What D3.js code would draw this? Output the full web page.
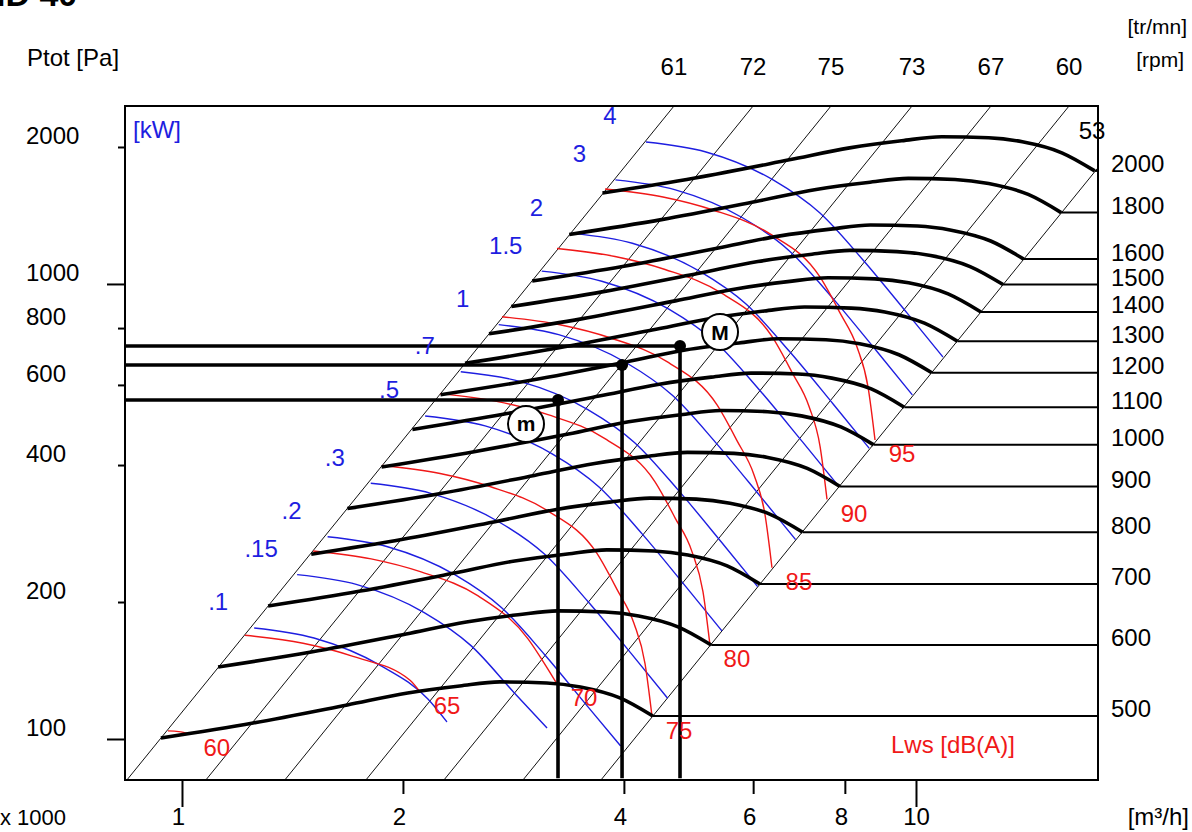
<!DOCTYPE html>
<html><head><meta charset="utf-8">
<script src="https://cdn.jsdelivr.net/npm/d3@7"></script>
<style>
body{margin:0;background:#fff}
svg{display:block}
text{font-family:"Liberation Sans",Arial,Helvetica,sans-serif}
</style>
</head><body>
<svg id="chart" width="1192" height="832"></svg>
<script>
// ---------- data (flow Q in 1000 m3/h, total pressure P in Pa) ----------
const xTicks = [1, 2, 4, 6, 8, 10];
const yTicks = [100, 200, 400, 600, 800, 1000, 2000];

const rpmValues = [500, 600, 700, 800, 900, 1000, 1100, 1200, 1300, 1400, 1500, 1600, 1800, 2000];
const fanQ = [
  [0.936, 1.25, 1.68, 2.03, 2.39, 2.71, 3.14, 3.49, 3.95, 4.38],
  [1.12, 1.50, 2.02, 2.44, 2.87, 3.25, 3.77, 4.19, 4.74, 5.26],
  [1.31, 1.75, 2.35, 2.84, 3.35, 3.79, 4.40, 4.89, 5.53, 6.13],
  [1.50, 2.00, 2.69, 3.25, 3.82, 4.34, 5.02, 5.58, 6.32, 7.01],
  [1.68, 2.25, 3.02, 3.65, 4.30, 4.88, 5.65, 6.28, 7.11, 7.88],
  [1.87, 2.50, 3.36, 4.06, 4.78, 5.42, 6.28, 6.98, 7.90, 8.76],
  [2.06, 2.75, 3.70, 4.47, 5.26, 5.96, 6.91, 7.68, 8.69, 9.64],
  [2.25, 3.00, 4.03, 4.87, 5.74, 6.50, 7.54, 8.38, 9.48, 10.51],
  [2.43, 3.25, 4.37, 5.28, 6.21, 7.05, 8.16, 9.07, 10.27, 11.39],
  [2.62, 3.50, 4.70, 5.68, 6.69, 7.59, 8.79, 9.77, 11.06, 12.26],
  [2.81, 3.75, 5.04, 6.09, 7.17, 8.13, 9.42, 10.47, 11.85, 13.14],
  [3.00, 4.00, 5.38, 6.50, 7.65, 8.67, 10.05, 11.17, 12.64, 14.02],
  [3.37, 4.50, 6.05, 7.31, 8.60, 9.76, 11.30, 12.56, 14.22, 15.77],
  [3.74, 5.00, 6.72, 8.12, 9.56, 10.84, 12.56, 13.96, 15.80, 17.52]
];
const fanP = [
  [100.5, 108.4, 118.8, 126.2, 130.8, 133.5, 132.8, 130.1, 123.1, 112.3],
  [144.0, 155.3, 170.2, 180.8, 187.5, 191.2, 190.2, 186.4, 176.4, 160.9],
  [196.0, 211.4, 231.6, 246.2, 255.1, 260.4, 259.0, 253.7, 240.1, 219.0],
  [254.7, 274.7, 301.1, 319.9, 331.5, 338.4, 336.6, 329.8, 312.0, 284.6],
  [321.0, 346.3, 379.5, 403.2, 417.9, 426.4, 424.3, 415.6, 393.2, 358.8],
  [396, 428, 468, 498, 516, 527, 524, 513, 485, 443],
  [479, 518, 567, 602, 624, 637, 634, 621, 588, 536],
  [571, 615, 674, 717, 742, 758, 754, 739, 699, 638],
  [669, 723, 792, 841, 872, 890, 885, 868, 820, 748],
  [777, 838, 918, 975, 1012, 1032, 1026, 1006, 951, 868],
  [892, 962, 1054, 1120, 1161, 1185, 1178, 1155, 1092, 997],
  [1015, 1094, 1200, 1274, 1320, 1348, 1341, 1313, 1243, 1134],
  [1285, 1385, 1518, 1613, 1671, 1706, 1697, 1662, 1573, 1435],
  [1585, 1710, 1874, 1991, 2064, 2106, 2095, 2053, 1942, 1772]
];

// shaft power iso-lines [kW]
const powerLabels = ["4", "3", "2", "1.5", "1", ".7", ".5", ".3", ".2", ".15", ".1"];
const powerQ = [
  [4.287, 5.175, 6.387, 7.399, 8.469, 9.721, 10.88],
  [3.895, 4.702, 5.803, 6.723, 7.695, 8.832, 9.886],
  [3.403, 4.107, 5.069, 5.873, 6.722, 7.716, 8.636],
  [3.091, 3.732, 4.606, 5.335, 6.107, 7.010, 7.846],
  [2.701, 3.260, 4.024, 4.661, 5.335, 6.124, 6.854],
  [2.398, 2.894, 3.572, 4.138, 4.737, 5.437, 6.085],
  [2.144, 2.588, 3.194, 3.700, 4.235, 4.861, 5.440],
  [1.808, 2.182, 2.693, 3.120, 3.571, 4.099, 4.588],
  [1.579, 1.906, 2.353, 2.726, 3.120, 3.581, 3.960],
  [1.435, 1.732, 2.138, 2.476, 2.835, 3.143],
  [1.254, 1.513, 1.868, 2.163, 2.296]
];
const powerP = [
  [2051, 1950, 1693, 1432, 1129, 863.7, 691.1],
  [1693, 1610, 1398, 1182, 932.1, 713.1, 570.6],
  [1292, 1229, 1067, 902.2, 711.3, 544.1, 435.4],
  [1067, 1014, 880.4, 744.6, 587.1, 449.1, 359.4],
  [814.0, 773.9, 672.0, 568.4, 448.1, 342.8, 274.3],
  [641.5, 609.9, 529.6, 447.9, 353.2, 270.2, 216.2],
  [512.8, 487.5, 423.3, 358.0, 282.3, 215.9, 172.8],
  [364.7, 346.7, 301.0, 254.6, 200.7, 153.6, 122.9],
  [278.3, 264.6, 229.7, 194.3, 153.2, 117.2, 96.5],
  [229.7, 218.4, 189.6, 160.4, 126.4, 105.7],
  [175.4, 166.7, 144.8, 122.4, 109.0]
];

// sound power iso-lines Lws [dB(A)]
const soundLabels = [95, 90, 85, 80, 75, 70, 65, 60];
const soundQ = [
  [3.770, 4.522, 5.290, 6.326, 7.399, 7.879, 8.311, 8.604, 8.794],
  [3.243, 3.890, 4.551, 5.442, 6.365, 6.778, 7.150, 7.402, 7.565],
  [2.729, 3.273, 3.829, 4.579, 5.355, 5.703, 6.015, 6.228, 6.365],
  [2.246, 2.694, 3.152, 3.769, 4.408, 4.694, 4.952, 5.126, 5.239],
  [1.873, 2.247, 2.628, 3.143, 3.676, 3.914, 4.129, 4.274, 4.369],
  [1.509, 1.810, 2.117, 2.532, 2.961, 3.130, 3.243],
  [1.218, 1.462, 1.710, 2.045, 2.110],
  [0.957, 0.990, 1.025]
];
const soundP = [
  [1617, 1553, 1454, 1288, 1036, 863.7, 727.0, 593.6, 454.1],
  [1197, 1149, 1076, 953.3, 766.7, 639.2, 538.1, 439.3, 336.1],
  [847.1, 813.6, 761.7, 674.8, 542.8, 452.5, 380.9, 311.0, 237.9],
  [574.0, 551.3, 516.2, 457.2, 367.8, 306.6, 258.1, 210.7, 161.2],
  [399.1, 383.3, 358.8, 317.9, 255.7, 213.2, 179.4, 146.5, 112.1],
  [259.0, 248.8, 232.9, 206.3, 166.0, 145.0, 132.1],
  [169.0, 162.3, 151.9, 134.6, 126.9],
  [104.2, 103.8, 102.6]
];

// efficiency (system) lines, eta [%]
const effLabels = [61, 72, 75, 73, 67, 60, 53];
const effQLow = [0.8415, 1.078, 1.381, 1.781, 2.275, 2.915, 3.723];
const effQHigh = [4.680, 5.998, 7.658, 9.875, 12.65, 16.16, 20.71];
const effPLow = 81.3;
const effPHigh = 2460;

// operating points
const pointNames = ["m", "", "M"];
const pointQ = [3.253, 3.977, 4.770];
const pointP = [556.1, 663.7, 730.7];
const pointPBottom = 82;

// ---------- drawing ----------
const L = 125, R = 1098, T = 106, B = 780;
const svg = d3.select("#chart");
const x = d3.scaleLog().domain([0.8363, 17.70]).range([L, R]);
const y = d3.scaleLog().domain([81.26, 2461]).range([B, T]);
const BLUE = "#1e1ee0", RED = "#f01818";

svg.append("defs").append("clipPath").attr("id", "plot")
  .append("rect").attr("x", L).attr("y", T).attr("width", R - L).attr("height", B - T);

const g = svg.append("g").attr("clip-path", "url(#plot)");
const line = d3.line().x(d => x(d[0])).y(d => y(d[1])).curve(d3.curveMonotoneX);
const zip = (qs, ps) => qs.map((q, i) => [q, ps[i]]);

// efficiency lines
effLabels.forEach((e, i) => {
  g.append("line")
    .attr("x1", x(effQLow[i])).attr("y1", y(effPLow))
    .attr("x2", x(effQHigh[i])).attr("y2", y(effPHigh))
    .attr("stroke", "#111").attr("stroke-width", 1);
});

// power lines
powerLabels.forEach((lab, i) => {
  g.append("path").attr("d", line(zip(powerQ[i], powerP[i])))
    .attr("fill", "none").attr("stroke", BLUE).attr("stroke-width", 1.4);
});
// sound lines
soundLabels.forEach((lab, i) => {
  g.append("path").attr("d", line(zip(soundQ[i], soundP[i])))
    .attr("fill", "none").attr("stroke", RED).attr("stroke-width", 1.4);
});

// rpm horizontal lines to the right edge
rpmValues.forEach((n, i) => {
  const q = fanQ[i][fanQ[i].length - 1], p = fanP[i][fanP[i].length - 1];
  g.append("line").attr("x1", x(q)).attr("x2", R).attr("y1", y(p)).attr("y2", y(p))
    .attr("stroke", "#000").attr("stroke-width", 2);
});
// fan curves
rpmValues.forEach((n, i) => {
  g.append("path").attr("d", line(zip(fanQ[i], fanP[i])))
    .attr("fill", "none").attr("stroke", "#000").attr("stroke-width", 3.6)
    .attr("stroke-linejoin", "round");
});

// operating points
pointQ.forEach((q, i) => {
  const px = x(q), py = y(pointP[i]);
  svg.append("line").attr("x1", L).attr("x2", px).attr("y1", py).attr("y2", py)
    .attr("stroke", "#000").attr("stroke-width", 3.6);
  svg.append("line").attr("x1", px).attr("x2", px).attr("y1", py).attr("y2", y(pointPBottom))
    .attr("stroke", "#000").attr("stroke-width", 3.6);
  svg.append("circle").attr("cx", px).attr("cy", py).attr("r", 6).attr("fill", "#000");
});
pointNames.forEach((nm, i) => {
  if (!nm) return;
  const px = x(pointQ[i]), py = y(pointP[i]);
  const cx = nm === "M" ? px + 40 : px - 32;
  const cy = nm === "M" ? py - 14 : py + 24;
  svg.append("circle").attr("cx", cx).attr("cy", cy).attr("r", 18)
    .attr("fill", "#fff").attr("stroke", "#000").attr("stroke-width", 2);
  svg.append("text").attr("x", cx).attr("y", cy).attr("dy", "0.36em")
    .attr("text-anchor", "middle").attr("font-size", 21).attr("font-weight", "bold")
    .text(nm);
});

// power labels
powerLabels.forEach((lab, i) => {
  svg.append("text").attr("x", x(powerQ[i][0]) - 36).attr("y", y(powerP[i][0]) - 26)
    .attr("dy", "0.35em").attr("text-anchor", "middle").attr("font-size", 24)
    .attr("fill", BLUE).text(lab);
});
// sound labels
soundLabels.forEach((lab, i) => {
  const k = soundQ[i].length - 1;
  svg.append("text").attr("x", x(soundQ[i][k]) + 27).attr("y", y(soundP[i][k]) + 14)
    .attr("dy", "0.35em").attr("text-anchor", "middle").attr("font-size", 24)
    .attr("fill", RED).text(lab);
});
// rpm labels
rpmValues.forEach((n, i) => {
  const p = fanP[i][fanP[i].length - 1];
  svg.append("text").attr("x", 1111).attr("y", y(p) - 7).attr("dy", "0.35em")
    .attr("font-size", 24).text(n);
});
// efficiency labels
effLabels.forEach((e, i) => {
  const xt = x(effQHigh[i]);
  if (xt <= R) {
    svg.append("text").attr("x", xt).attr("y", 67).attr("dy", "0.35em")
      .attr("text-anchor", "middle").attr("font-size", 24).text(e);
  } else {
    svg.append("text").attr("x", R - 6).attr("y", T + 25).attr("dy", "0.35em")
      .attr("text-anchor", "middle").attr("font-size", 24).text(e);
  }
});

// axes
const yAxis = svg.append("g").attr("transform", `translate(${L},0)`)
  .call(d3.axisLeft(y).tickValues(yTicks).tickFormat(d3.format("d")).tickSize(7));
yAxis.select(".domain").remove();
yAxis.selectAll(".tick line").attr("stroke", "#000").attr("stroke-width", 2)
  .attr("x2", d => (d === 100 || d === 1000) ? -18 : -7);
yAxis.selectAll(".tick text").attr("x", 26 - L).attr("y", -12).attr("dy", "0.35em")
  .attr("text-anchor", "start").attr("font-size", 24).attr("fill", "#000")
  .style("font-family", '"Liberation Sans",Arial,sans-serif');

const xAxis = svg.append("g").attr("transform", `translate(0,${B})`)
  .call(d3.axisBottom(x).tickValues(xTicks).tickFormat(d3.format("d")).tickSize(14));
xAxis.select(".domain").remove();
xAxis.selectAll(".tick line").attr("stroke", "#000").attr("stroke-width", 2)
  .attr("y2", d => (d === 1 || d === 10) ? 27 : 14);
xAxis.selectAll(".tick text").attr("y", 37).attr("dy", "0.35em")
  .attr("x", d => d === 10 ? 0 : -4)
  .attr("font-size", 24).attr("fill", "#000")
  .style("font-family", '"Liberation Sans",Arial,sans-serif');

// frame
svg.append("rect").attr("x", L).attr("y", T).attr("width", R - L).attr("height", B - T)
  .attr("fill", "none").attr("stroke", "#000").attr("stroke-width", 2);

// titles / units
svg.append("text").attr("x", -4).attr("y", 6).attr("font-size", 34)
  .attr("font-weight", "bold").text("ID 40");
svg.append("text").attr("x", 27).attr("y", 58).attr("dy", "0.35em")
  .attr("font-size", 24).text("Ptot [Pa]");
svg.append("text").attr("x", 133).attr("y", 130).attr("dy", "0.35em")
  .attr("font-size", 24).attr("fill", BLUE).text("[kW]");
svg.append("text").attr("x", 1187).attr("y", 27).attr("dy", "0.35em")
  .attr("text-anchor", "end").attr("font-size", 21).text("[tr/mn]");
svg.append("text").attr("x", 1184).attr("y", 60).attr("dy", "0.35em")
  .attr("text-anchor", "end").attr("font-size", 21).text("[rpm]");
svg.append("text").attr("x", 891).attr("y", 745).attr("dy", "0.35em")
  .attr("font-size", 24).attr("fill", RED).text("Lws [dB(A)]");
svg.append("text").attr("x", 0).attr("y", 817).attr("dy", "0.35em")
  .attr("font-size", 22).text("x 1000");
svg.append("text").attr("x", 1189).attr("y", 817).attr("dy", "0.35em")
  .attr("text-anchor", "end").attr("font-size", 24).text("[m³/h]");
</script>
</body></html>
